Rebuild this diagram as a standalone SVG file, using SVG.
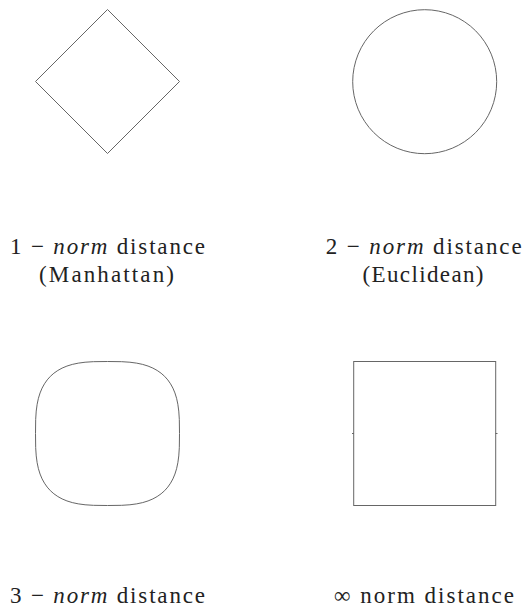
<svg xmlns="http://www.w3.org/2000/svg" width="524" height="606" viewBox="0 0 524 606">
<style>
.shape{fill:none;stroke:#666;stroke-width:1}
.lbl{font-family:"Liberation Serif","DejaVu Serif",serif;font-size:23px;fill:#222;text-anchor:middle}
.it{font-style:italic}
</style>
<rect width="524" height="606" fill="#fff"/>
<g id="manhattan">
<polygon class="shape" points="107.5,9.5 179.5,81.5 107.5,153.5 35.5,81.5"/>
<text class="lbl" x="107.5" y="254" textLength="195" lengthAdjust="spacing">1 − <tspan class="it">norm</tspan> distance</text>
<text class="lbl" x="106.5" y="282.3" textLength="135" lengthAdjust="spacing">(Manhattan)</text>
</g>
<g id="euclidean">
<circle class="shape" cx="424.7" cy="81.7" r="72"/>
<text class="lbl" x="423.7" y="254" textLength="196" lengthAdjust="spacing">2 − <tspan class="it">norm</tspan> distance</text>
<text class="lbl" x="423" y="282.3" textLength="121" lengthAdjust="spacing">(Euclidean)</text>
</g>
<g id="norm3">
<path class="shape" transform="translate(107.5,433.5)" d="M72,0 L71.82,14.15 L71.27,22.41 L70.35,29.24 L69.08,35.21 L67.43,40.55 L65.42,45.36 L63.03,49.7 L60.28,53.62 L57.15,57.15 L53.62,60.28 L49.7,63.03 L45.36,65.42 L40.55,67.43 L35.21,69.08 L29.24,70.35 L22.41,71.27 L14.15,71.82 L0,72 L-14.15,71.82 L-22.41,71.27 L-29.24,70.35 L-35.21,69.08 L-40.55,67.43 L-45.36,65.42 L-49.7,63.03 L-53.62,60.28 L-57.15,57.15 L-60.28,53.62 L-63.03,49.7 L-65.42,45.36 L-67.43,40.55 L-69.08,35.21 L-70.35,29.24 L-71.27,22.41 L-71.82,14.15 L-72,0 L-71.82,-14.15 L-71.27,-22.41 L-70.35,-29.24 L-69.08,-35.21 L-67.43,-40.55 L-65.42,-45.36 L-63.03,-49.7 L-60.28,-53.62 L-57.15,-57.15 L-53.62,-60.28 L-49.7,-63.03 L-45.36,-65.42 L-40.55,-67.43 L-35.21,-69.08 L-29.24,-70.35 L-22.41,-71.27 L-14.15,-71.82 L0,-72 L14.15,-71.82 L22.41,-71.27 L29.24,-70.35 L35.21,-69.08 L40.55,-67.43 L45.36,-65.42 L49.7,-63.03 L53.62,-60.28 L57.15,-57.15 L60.28,-53.62 L63.03,-49.7 L65.42,-45.36 L67.43,-40.55 L69.08,-35.21 L70.35,-29.24 L71.27,-22.41 L71.82,-14.15 Z"/>
<text class="lbl" x="107.5" y="602.5" textLength="195" lengthAdjust="spacing">3 − <tspan class="it">norm</tspan> distance</text>
</g>
<g id="infinity">
<rect class="shape" x="353.7" y="361.5" width="142" height="144"/>
<line class="shape" x1="352" y1="433.5" x2="354" y2="433.5"/>
<line class="shape" x1="495.5" y1="433.5" x2="497.5" y2="433.5"/>
<text class="lbl" x="424" y="602.5" textLength="180" lengthAdjust="spacing">∞ norm distance</text>
</g>
<g id="connectors"/>
</svg>
